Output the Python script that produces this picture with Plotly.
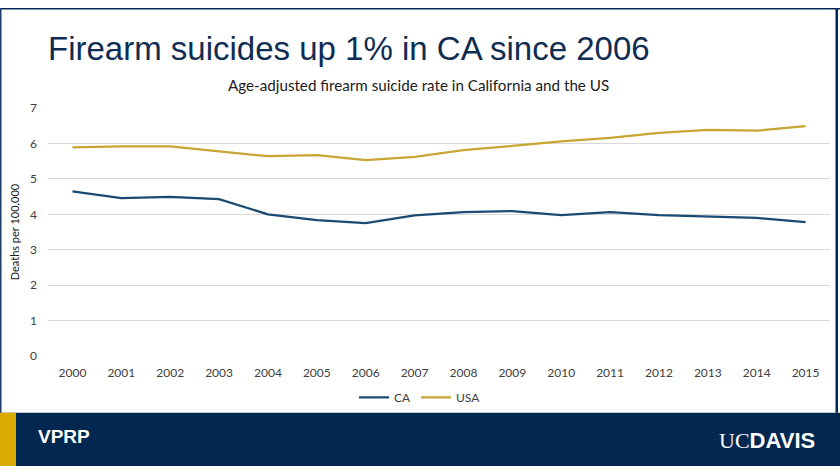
import plotly.graph_objects as go

years = [str(y) for y in range(2000, 2016)]
ca = [4.65, 4.46, 4.49, 4.43, 4.00, 3.84, 3.75, 3.97, 4.06, 4.09, 3.98, 4.06, 3.98, 3.95, 3.90, 3.78]
usa = [5.89, 5.92, 5.92, 5.78, 5.64, 5.67, 5.53, 5.62, 5.81, 5.93, 6.06, 6.16, 6.30, 6.38, 6.36, 6.49]
y_ticks = [0, 1, 2, 3, 4, 5, 6, 7]

W, H = 840, 473
def px(x): return x / W
def py(y): return 1 - y / H

fig = go.Figure()
fig.add_trace(go.Scatter(x=years, y=ca, name="CA", mode="lines",
                         line=dict(color="#1b4a72", width=2.25)))
fig.add_trace(go.Scatter(x=years, y=usa, name="USA", mode="lines",
                         line=dict(color="#c9a534", width=2.25)))

fig.update_layout(
    width=W, height=H,
    margin=dict(l=0, r=0, t=0, b=0),
    paper_bgcolor="white", plot_bgcolor="white",
    font=dict(family="Lato, Open Sans, sans-serif", color="#404040"),
    showlegend=True,
    legend=dict(orientation="h", x=0.5, xanchor="center", y=py(402), yanchor="middle",
                font=dict(size=12, color="#404040"), itemwidth=30, tracegroupgap=0,
                bgcolor="rgba(0,0,0,0)"),
    xaxis=dict(domain=[px(48), px(830)], type="category", range=[-0.5, 15.5],
               showgrid=False, showline=False, ticks="",
               tickfont=dict(size=12, color="#404040"), ticklabelstandoff=8),
    yaxis=dict(domain=[py(359.5), py(103.3)], range=[0, 7], tickvals=y_ticks,
               showgrid=True, gridcolor="#d9d9d9", gridwidth=1, zeroline=False,
               showline=False, ticks="", tickfont=dict(size=12, color="#404040"),
               ticklabelstandoff=10,
               title=dict(text="Deaths per 100,000", font=dict(size=11, color="#202020"), standoff=8)),
)

shapes = [
    dict(type="rect", xref="paper", yref="paper", x0=0, x1=1, y0=0, y1=py(418),
         fillcolor="#022851", line=dict(width=0), layer="above"),
    dict(type="rect", xref="paper", yref="paper", x0=0, x1=px(16), y0=0, y1=py(418),
         fillcolor="#daaa00", line=dict(width=0), layer="above"),
    dict(type="rect", xref="paper", yref="paper", x0=0, x1=1, y0=py(1.5), y1=1,
         fillcolor="#022851", line=dict(width=0)),
    dict(type="rect", xref="paper", yref="paper", x0=0, x1=px(1.5), y0=py(418), y1=1,
         fillcolor="#1d3f6e", line=dict(width=0)),
    dict(type="rect", xref="paper", yref="paper", x0=px(835.5), x1=px(838), y0=py(418), y1=1,
         fillcolor="#022851", line=dict(width=0)),
]
fig.update_layout(shapes=shapes)

anns = [
    dict(text="Firearm suicides up 1% in CA since 2006", x=px(46), y=py(42),
         xanchor="left", yanchor="middle",
         font=dict(family="Liberation Sans, Arial, sans-serif", size=33, color="#0f2c52")),
    dict(text="Age-adjusted firearm suicide rate in California and the US", x=px(418), y=py(80),
         xanchor="center", yanchor="middle",
         font=dict(family="Lato, sans-serif", size=15.2, color="#202020")),
    dict(text="<b>VPRP</b>", x=px(36), y=py(443), xanchor="left", yanchor="middle",
         font=dict(family="Liberation Sans, Arial, sans-serif", size=19, color="white")),
    dict(text="<span style='font-family:Liberation Serif'>UC</span><b>DAVIS</b>",
         x=px(817), y=py(447), xanchor="right", yanchor="middle",
         font=dict(family="Liberation Sans, Arial, sans-serif", size=22, color="white")),
]
for a in anns:
    a.update(xref="paper", yref="paper", showarrow=False)
fig.update_layout(annotations=anns)

fig.write_html("out.html", config={"displayModeBar": False},
               post_script="document.body.style.margin='0';document.body.style.overflow='hidden';"
                           "document.documentElement.style.overflow='hidden';")
